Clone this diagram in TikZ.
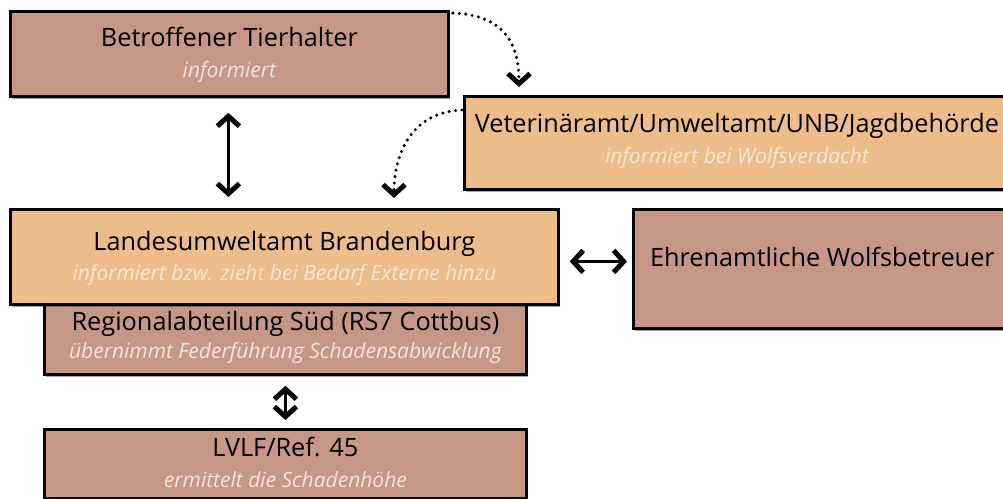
\documentclass[tikz,border=0pt]{standalone}
\usepackage{fontspec}
\setmainfont{Open Sans}
\usetikzlibrary{arrows.meta,shadows,calc}
\definecolor{rose}{HTML}{C69787}
\definecolor{apricot}{HTML}{ECBC8B}
\definecolor{subrose}{HTML}{F0E4E0}
\definecolor{suborange}{HTML}{F7E7D8}
\begin{document}
\begin{tikzpicture}[x=1pt,y=-1pt,
  box/.style={draw=black, line width=2.8pt, anchor=north west, inner sep=0pt,
    drop shadow={shadow xshift=2pt, shadow yshift=-3pt, opacity=0.35, fill=black}},
  rosebox/.style={box, fill=rose},
  orangebox/.style={box, fill=apricot},
  title/.style={anchor=base, inner sep=0pt, font=\fontsize{25.3}{30}\selectfont},
  subr/.style={anchor=base, inner sep=0pt, font=\fontsize{21}{25}\selectfont\itshape, text=subrose},
  subo/.style={subr, text=suborange},
  tipb/.tip={Straight Barb[length=10pt,width=22pt,line width=5pt]},
  dbl/.style={tipb-tipb, line width=2.4pt},
  dotarrow/.style={line width=3.4pt, line cap=round, dash pattern=on 0pt off 6.5pt, -tipb},
]
\useasboundingbox (0,0) rectangle (1003,498);

\node[rosebox, minimum width=438pt, minimum height=85pt] (b1) at (9,10) {};
\node[title] (t1) at ($(b1.north)+(0,36)$) {Betroffener Tierhalter};
\node[subr] (s1) at ($(b1.north)+(0,67)$) {informiert};

\node[orangebox, minimum width=545pt, minimum height=93pt] (b2) at (463,95) {};
\node[title] (t2) at ($(b2.north)+(0,37)$) {Veterinäramt/Umweltamt/UNB/Jagdbehörde};
\node[subo] (s2) at ($(b2.north)+(0,68)$) {informiert bei Wolfsverdacht};

\node[rosebox, minimum width=482pt, minimum height=70pt] (b4) at (43,303) {};
\node[title] (t4) at ($(b4.north)+(0,27)$) {Regionalabteilung Süd (RS7 Cottbus)};
\node[subr] (s4) at ($(b4.north)+(0,55)$) {übernimmt Federführung Schadensabwicklung};

\node[orangebox, minimum width=548pt, minimum height=95pt] (b3) at (9,208) {};
\node[title] (t3) at ($(b3.north)+(0,42)$) {Landesumweltamt Brandenburg};
\node[subo] (s3) at ($(b3.north)+(0,72)$) {informiert bzw. zieht bei Bedarf Externe hinzu};

\node[rosebox, minimum width=378pt, minimum height=119pt] (b6) at (632,208) {};
\node[title] (t6) at ($(b6.north)+(0,58)$) {Ehrenamtliche Wolfsbetreuer};

\node[rosebox, minimum width=482pt, minimum height=69pt] (b5) at (43,428) {};
\node[title] (t5) at ($(b5.north)+(0,28)$) {LVLF/Ref. 45};
\node[subr] (s5) at ($(b5.north)+(0,59)$) {ermittelt die Schadenhöhe};

\draw[dbl, shorten <=15pt, shorten >=11pt] ([xshift=-1pt]b1.south) -- ([xshift=-1pt]b1.south |- b3.north);
\draw[dbl, shorten <=10pt, shorten >=5pt] ([yshift=-4.5pt]b3.east) -- ([yshift=-4.5pt]b3.east -| b6.west);
\draw[dbl, shorten <=10pt, shorten >=8pt] (b4.south) -- (b4.south |- b5.north);

\coordinate (c1s) at ($(b1.north east)+(3,3)$);
\coordinate (c1e) at ($(b2.north west)+(56,-8)$);
\draw[dotarrow] (c1s) .. controls ($(c1s)+(50,2)$) and ($(c1e)+(0,-45)$) .. (c1e);

\coordinate (c2s) at ($(b2.north west)+(-1,15)$);
\coordinate (c2e) at ($(b3.north west)+(385,-10)$);
\draw[dotarrow] (c2s) .. controls ($(c2s)+(-50,2)$) and ($(c2e)+(0,-45)$) .. (c2e);
\end{tikzpicture}
\end{document}
